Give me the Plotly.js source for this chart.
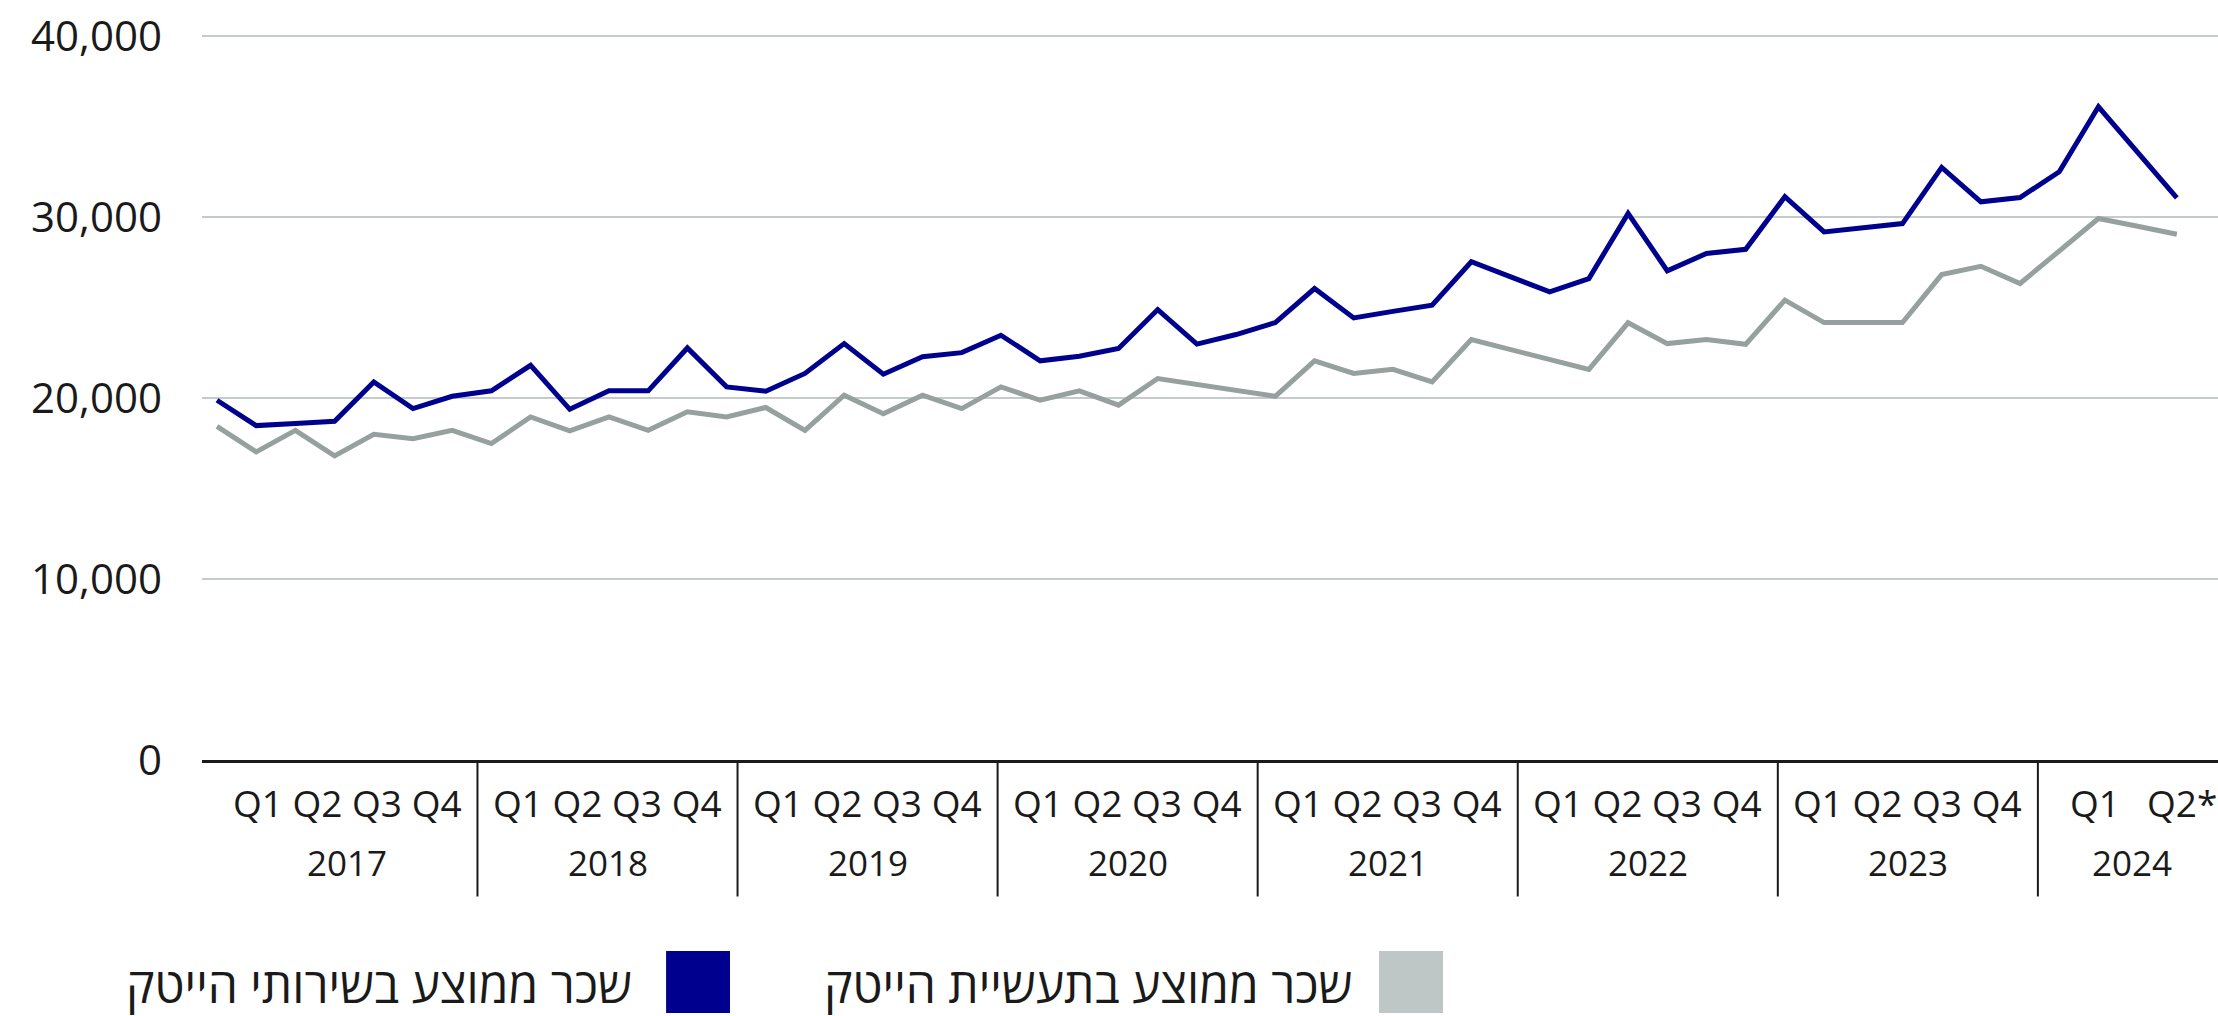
<!DOCTYPE html>
<html>
<head>
<meta charset="utf-8">
<script src="https://cdn.plot.ly/plotly-3.0.1.min.js"></script>
<style>html,body{margin:0;padding:0;background:#fff;}#chart{width:2218px;height:1016px;}</style>
</head>
<body>
<div id="chart"></div>
<script>
// ---- data ----
const seriesNames = ['שכר ממוצע בשירותי הייטק', 'שכר ממוצע בתעשיית הייטק'];
const servicesWage = [19870, 18470, 18590, 18710, 20880, 19410, 20090, 20390, 21800, 19370,
  20390, 20390, 22760, 20610, 20370, 21350, 23000, 21310, 22270, 22500,
  23460, 22050, 22300, 22730, 24880, 22970, 23500, 24160, 26040, 24420,
  24780, 25120, 27520, 26690, 25860, 26590, 30190, 27020, 27980, 28210,
  31110, 29170, 29400, 29630, 32730, 30830, 31070, 32490, 36080, 33570, 31050];
const industryWage = [18430, 17020, 18210, 16800, 17990, 17750, 18210, 17480, 18950, 18180,
  18950, 18210, 19230, 18950, 19470, 18210, 20150, 19130, 20150, 19410,
  20610, 19870, 20390, 19600, 21070, 20750, 20420, 20090, 22050, 21350,
  21580, 20880, 23220, 22670, 22120, 21570, 24150, 23000, 23220, 22960,
  25400, 24160, 24160, 24160, 26810, 27270, 26320, 28110, 29910, 29480, 29040];
const years = ['2017', '2018', '2019', '2020', '2021', '2022', '2023', '2024'];
const fullYearQuarters = 'Q1 Q2 Q3 Q4';
const lastYearQuarters = ['Q1', 'Q2*'];
const yTicks = [0, 10000, 20000, 30000, 40000];

// ---- styles ----
const FONT = 'Open Sans, Liberation Sans, DejaVu Sans, sans-serif';
const TXT = '#1a1a1a';
const DARK = '#00008f';
const GREY = '#95a09f';
const GREY_KEY = '#bec6c6';

const idx = servicesWage.map((_, i) => i);

const traces = [
  {x: idx, y: servicesWage, type: 'scatter', mode: 'lines', name: seriesNames[0],
   line: {color: DARK, width: 5}, hoverinfo: 'y', showlegend: false},
  {x: idx, y: industryWage, type: 'scatter', mode: 'lines', name: seriesNames[1],
   line: {color: GREY, width: 5}, hoverinfo: 'y', showlegend: false},
  // anchor trace for the year-label axis
  {x: [0], y: [null], xaxis: 'x2', type: 'scatter', mode: 'markers',
   marker: {opacity: 0}, hoverinfo: 'skip', showlegend: false}
];

const annotations = [];
const shapes = [];
const yQ = -0.0592, yYear = -0.1405;
years.forEach((yr, k) => {
  const last = k === years.length - 1;
  annotations.push({xref: 'x2', yref: 'paper', x: last ? k + 0.361 : k + 0.5, y: yYear,
    text: yr, showarrow: false, xanchor: 'center', yanchor: 'middle',
    font: {family: FONT, size: 35, color: TXT}});
  if (!last) {
    annotations.push({xref: 'x2', yref: 'paper', x: k + 0.5, y: yQ,
      text: fullYearQuarters, showarrow: false, xanchor: 'center', yanchor: 'middle',
      font: {family: FONT, size: 37, color: TXT}});
  } else {
    const qpos = [k + 0.219, k + 0.553];
    lastYearQuarters.forEach((q, j) => annotations.push({xref: 'x2', yref: 'paper', x: qpos[j], y: yQ,
      text: q, showarrow: false, xanchor: 'center', yanchor: 'middle',
      font: {family: FONT, size: 37, color: TXT}}));
  }
  if (k > 0) {
    shapes.push({type: 'line', xref: 'x2', yref: 'paper', x0: k, x1: k, y0: -0.003, y1: -0.188,
      line: {color: TXT, width: 2}});
  }
});

// legend (RTL: text to the left of the key square)
const legendItems = [
  {name: seriesNames[0], color: DARK, x0: 0.2302, x1: 0.2619, tx: 0.2143},
  {name: seriesNames[1], color: GREY_KEY, x0: 0.5838, x1: 0.6156, tx: 0.5714}
];
legendItems.forEach(it => {
  shapes.push({type: 'rect', xref: 'paper', yref: 'paper', x0: it.x0, x1: it.x1,
    y0: -0.3485, y1: -0.2631, fillcolor: it.color, line: {width: 0}});
  annotations.push({xref: 'paper', yref: 'paper', x: it.tx, y: -0.309, text: it.name,
    showarrow: false, xanchor: 'right', yanchor: 'middle',
    font: {family: FONT, size: 48, color: TXT}});
});

const layout = {
  width: 2218, height: 1016,
  margin: {l: 202, r: 0, t: 34, b: 256, pad: 0},
  paper_bgcolor: '#ffffff', plot_bgcolor: '#ffffff',
  font: {family: FONT, color: TXT},
  xaxis: {range: [-0.383, 51.05], showgrid: false, zeroline: false, showticklabels: false,
    ticks: '', showline: true, linecolor: TXT, linewidth: 3, fixedrange: true},
  xaxis2: {overlaying: 'x', range: [-0.0592, 7.6926], visible: false, fixedrange: true},
  yaxis: {range: [0, 40100], tickvals: yTicks, tickformat: ',d', showgrid: true,
    gridcolor: '#c5cbcb', gridwidth: 1.6, zeroline: false, showline: false, ticks: '',
    ticklabelstandoff: 39, tickfont: {family: FONT, size: 42, color: TXT}, fixedrange: true},
  shapes: shapes,
  annotations: annotations,
  showlegend: false
};

Plotly.newPlot('chart', traces, layout, {displayModeBar: false, staticPlot: true});
</script>
</body>
</html>
